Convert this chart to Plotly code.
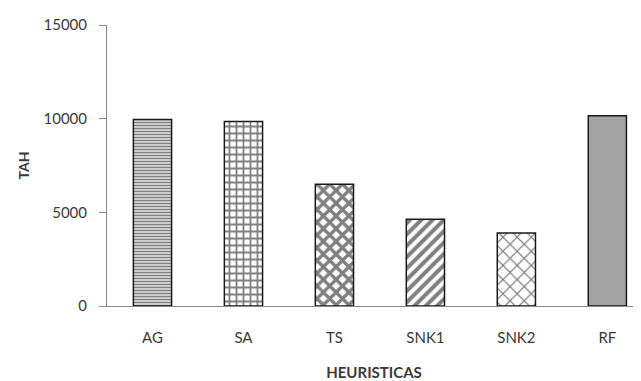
import plotly.graph_objects as go

categories = ["AG", "SA", "TS", "SNK1", "SNK2", "RF"]
tah_values = [9950, 9850, 6500, 4630, 3900, 10150]
y_ticks = [0, 5000, 10000, 15000]

shapes = ["-", "+", "x", "/", "x", ""]
solid = [0.6, 0.45, 0.6, 0.5, 0.22, 0.5]
sizes = [3, 7, 9, 8, 10, 8]
fills = ["white"] * 5 + ["#a3a3a3"]

fig = go.Figure()
for cat, val, shp, so, sz, fc in zip(categories, tah_values, shapes, solid, sizes, fills):
    marker = dict(color=fc, line=dict(color="#1a1a1a", width=1.5))
    if shp:
        marker["pattern"] = dict(shape=shp, fgcolor="black", bgcolor="white",
                                 solidity=so, size=sz)
    fig.add_trace(go.Bar(x=[cat], y=[val], width=0.42, marker=marker, name=cat))

font = "Lato, 'Liberation Sans', sans-serif"
txt = "#3a3a3a"
fig.update_layout(
    width=633, height=373,
    margin=dict(l=99, r=0, t=17, b=75, autoexpand=False),
    paper_bgcolor="white", plot_bgcolor="white",
    showlegend=False, barmode="overlay",
    font=dict(family=font, size=15, color=txt),
)
fig.update_xaxes(
    range=[-0.5, 5.37], showline=True, linecolor="#888", linewidth=1,
    ticks="", showgrid=False, automargin=False, ticklabelstandoff=18,
    title=dict(text="<b>HEURISTICAS</b>", font=dict(size=15, color=txt), standoff=22),
    tickfont=dict(size=15, color=txt),
)
fig.update_yaxes(
    range=[0, 15000], tickvals=y_ticks, ticktext=[str(v) for v in y_ticks],
    showline=True, linecolor="#888", linewidth=1, automargin=False,
    ticks="outside", ticklen=7, tickcolor="#888", showgrid=False, zeroline=False,
    ticklabelstandoff=9,
    title=dict(text="<b>TAH</b>", font=dict(size=14, color=txt), standoff=10),
    tickfont=dict(size=15, color=txt),
)
fig.write_html("out.html")
